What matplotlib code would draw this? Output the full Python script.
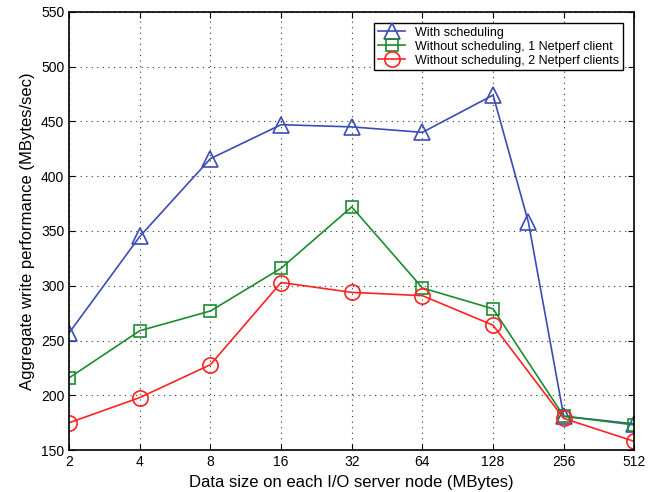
import numpy as np
from matplotlib import pyplot as plt

plt.rcParams['font.family'] = ['Liberation Sans', 'DejaVu Sans']

# Data
sizes = [2, 4, 8, 16, 32, 64, 128, 181, 256, 512]
sched = [257, 345, 416, 447, 445, 440, 474, 358, 181, 174]

sizes_ns = [2, 4, 8, 16, 32, 64, 128, 256, 512]
no_sched_1 = [216, 259, 277, 316, 372, 298, 279, 181, 173]
no_sched_2 = [175, 198, 228, 303, 294, 291, 264, 179, 158]

xticks = [2, 4, 8, 16, 32, 64, 128, 256, 512]

fig = plt.figure(figsize=(6.52, 4.92), dpi=100)
ax = fig.add_axes([0.106, 0.085, 0.867, 0.891])

ax.plot(sizes, sched, color='#3b4cb5', marker='^', markersize=11, mfc='none',
        mew=1.2, lw=1.2, label='With scheduling')
ax.plot(sizes_ns, no_sched_1, color='#1c8c30', marker='s', markersize=9, mfc='none',
        mew=1.2, lw=1.2, label='Without scheduling, 1 Netperf client')
ax.plot(sizes_ns, no_sched_2, color='#ff2222', marker='o', markersize=11, mfc='none',
        mew=1.2, lw=1.2, label='Without scheduling, 2 Netperf clients')

ax.set_xscale('log', base=2)
ax.set_xlim(2, 512)
ax.set_ylim(150, 550)
ax.set_xticks(xticks)
ax.set_xticklabels([str(t) for t in xticks])
ax.set_yticks(np.arange(150, 551, 50))
ax.minorticks_off()
ax.tick_params(direction='in', top=True, right=True, labelsize=10, length=4)
ax.grid(True, color='#333333', linestyle=(0, (1, 4)), linewidth=0.8)
for s in ax.spines.values():
    s.set_linewidth(1.2)

ax.set_xlabel('Data size on each I/O server node (MBytes)', fontsize=12)
ax.set_ylabel('Aggregate write performance (MBytes/sec)', fontsize=12)

leg = ax.legend(loc='upper right', fontsize=9, fancybox=False, framealpha=1,
                edgecolor='black', borderpad=0.3, labelspacing=0.15,
                handlelength=2.2, borderaxespad=0.9)
leg.get_frame().set_linewidth(1.0)

plt.savefig('out.png', dpi=100)
